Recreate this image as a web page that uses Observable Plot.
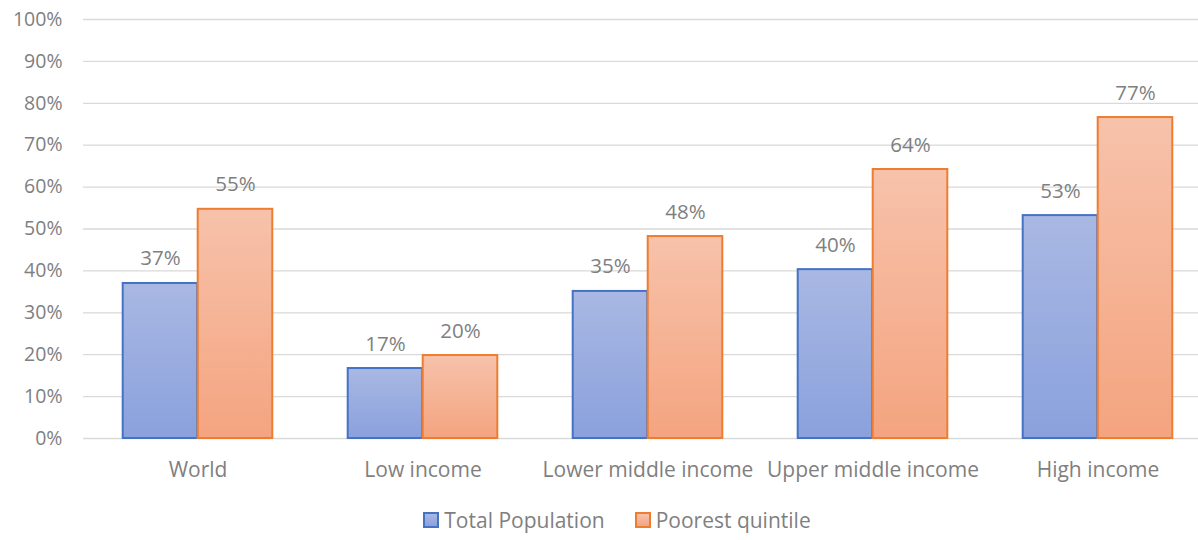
<!DOCTYPE html>
<html>
<head>
<meta charset="utf-8">
<script src="https://cdn.jsdelivr.net/npm/d3@7"></script>
<script src="https://cdn.jsdelivr.net/npm/@observablehq/plot@0.6"></script>
<style>
  body { margin: 0; background: #fff; font-family: "Open Sans", sans-serif; }
  #chart svg { display: block; }
  .legend { display: flex; justify-content: center; align-items: center; gap: 30px; height: 40px; margin-left: 36px; font-size: 21px; color: #7f7f7f; }
  .legend span.item { display: flex; align-items: center; gap: 5px; }
  .legend span.sw { width: 12px; height: 12px; display: inline-block; border: 2px solid; }
</style>
</head>
<body>
<div id="chart"></div>
<div class="legend">
  <span class="item"><span class="sw" style="border-color:#4472c4;background:linear-gradient(#a9b8e3,#8aa1dd)"></span>Total Population</span>
  <span class="item"><span class="sw" style="border-color:#ed7d31;background:linear-gradient(#f7c2ab,#f4a47f)"></span>Poorest quintile</span>
</div>
<script>
const categories = ["World", "Low income", "Lower middle income", "Upper middle income", "High income"];
const totalPopulation = [37.0, 16.7, 35.1, 40.3, 53.2];
const poorestQuintile = [54.7, 19.8, 48.2, 64.2, 76.6];
const yTicks = [0, 10, 20, 30, 40, 50, 60, 70, 80, 90, 100];

const total = categories.map((c, i) => ({category: c, value: totalPopulation[i]}));
const poorest = categories.map((c, i) => ({category: c, value: poorestQuintile[i]}));

const W = 1198, marginLeft = 83, marginRight = 0;
const xRange = [83.5, 1210.5];
const band = (xRange[1] - xRange[0]) / categories.length;
const barW = 75;
const outer = (band - 2 * barW) / 2;
const grey = "#7f7f7f";
const font = "'Open Sans', sans-serif";
const fs = 19.5;

const plot = Plot.plot({
  width: W,
  height: 500,
  marginTop: 19,
  marginBottom: 62,
  marginLeft,
  marginRight,
  style: {fontFamily: font, fontSize: fs + "px", color: grey, background: "#fff"},
  x: {domain: categories, padding: 0, range: xRange, label: null},
  y: {domain: [0, 100], label: null},
  marks: [
    Plot.ruleY(yTicks, {stroke: "#d9d9d9", strokeWidth: 1.3}),
    Plot.axisY({ticks: yTicks, tickFormat: d => d + "%", tickSize: 0, tickPadding: 21, fontSize: fs, fill: grey}),
    Plot.axisX({tickSize: 0, tickPadding: 24, fontSize: 21, fill: grey}),
    Plot.barY(total, {x: "category", y: "value", fill: "url(#gBlue)", stroke: "#4472c4", strokeWidth: 2,
      insetLeft: outer, insetRight: band - outer - barW}),
    Plot.barY(poorest, {x: "category", y: "value", fill: "url(#gOrange)", stroke: "#ed7d31", strokeWidth: 2,
      insetLeft: outer + barW, insetRight: outer}),
    Plot.text(total, {x: "category", y: "value", text: d => Math.round(d.value) + "%", dx: -barW / 2,
      dy: -18, lineAnchor: "bottom", fill: grey, fontSize: 20.5}),
    Plot.text(poorest, {x: "category", y: "value", text: d => Math.round(d.value) + "%", dx: barW / 2,
      dy: -18, lineAnchor: "bottom", fill: grey, fontSize: 20.5})
  ]
});

const svg = d3.select(plot);
const defs = svg.insert("defs", ":first-child");
function grad(id, top, bottom) {
  const g = defs.append("linearGradient").attr("id", id).attr("x1", 0).attr("y1", 0).attr("x2", 0).attr("y2", 1);
  g.append("stop").attr("offset", "0%").attr("stop-color", top);
  g.append("stop").attr("offset", "100%").attr("stop-color", bottom);
}
grad("gBlue", "#a9b8e3", "#8aa1dd");
grad("gOrange", "#f7c2ab", "#f4a47f");

document.getElementById("chart").appendChild(plot);
</script>
</body>
</html>
